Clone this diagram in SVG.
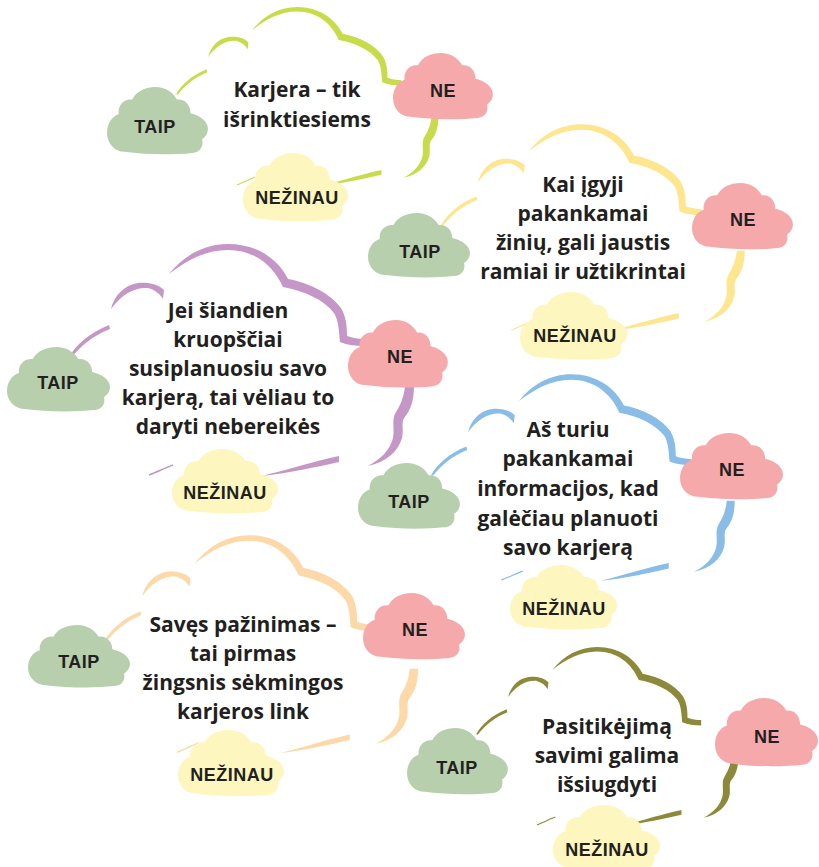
<svg xmlns="http://www.w3.org/2000/svg" xmlns:xlink="http://www.w3.org/1999/xlink" width="819" height="867" viewBox="0 0 819 867">
<style>
.lbl{font-family:"Liberation Sans",Arial,sans-serif;font-weight:700;font-size:18px;letter-spacing:0.5px;fill:#231f20;text-anchor:middle}
.main{font-family:"Open Sans","Noto Sans",sans-serif;font-weight:700;font-size:21px;fill:#231f20;text-anchor:middle}
.taip{fill:#b7cfad}
.ne{fill:#f5a9ab}
.nez{fill:#fdf7bf}
.c1{color:#c8dc4b}
.c2{color:#fde68e}
.c3{color:#c597c6}
.c4{color:#89bce6}
.c5{color:#fdd8a8}
.c6{color:#8c8a3a}
</style>
<defs>
<path id="sc" d="M18,62 C8,62 0,54 0,44 C0,35 5,28 12,26 C11,17 18,11 26,12 C30,4 40,0 50,0 C60,0 68,5 72,12 C80,11 86,17 86,25 C96,27 104,33 104,40 C104,45 101,48 98,50 C100,57 95,63 88,63 C70,65 40,65 18,62 Z"/>
<g id="outline">
<path fill="currentColor" d="M69,357 C76,345 89,333 109,325 L110,329 C92,336 80,347 71,358 Z"/>
<path fill="currentColor" d="M111,309 C114,296 124,285 138,283 C148,282 158,284 164,290 L163,299 C160,294 155,290 148,288 C134,287 121,295 111,309 Z"/>
<path fill="currentColor" d="M169,274 C183,256 204,244 228,244 C257,244 278,259 288,279 C310,283 331,294 341,308 C347,318 347,330 347,336 C353,338 358,339 365,339 L365,346 C356,346 347,345 340,342 C339,333 339,321 334,313 C324,300 305,291 283,287 C273,265 254,250 228,250 C205,250 186,261 169,274 Z"/>
<path fill="currentColor" d="M414,386 C414,400 411,410 404,418 C401,424 404,430 402,438 C398,452 386,462 368,466 C381,459 390,450 393,438 C395,428 391,420 396,412 C401,404 404,396 405,386 Z"/>
<path fill="currentColor" d="M339,456 C315,461 290,469 262,476 C290,473 316,467 339,462 Z"/>
<path fill="none" stroke="currentColor" stroke-width="1.4" d="M149,475 C157,472 165,468 173,465"/>
</g>
</defs>
<g id="connectors">
<use href="#outline" class="c1" transform="translate(123.8,-181) scale(0.76,0.77)"/>
<use href="#outline" class="c2" transform="translate(380.4,-92.8) scale(0.88,0.89)"/>
<use href="#outline" class="c3"/>
<use href="#outline" class="c4" transform="translate(370.4,157.2) scale(0.88,0.89)"/>
<use href="#outline" class="c5" transform="translate(41.3,305.8) scale(0.91,0.94)"/>
<use href="#outline" class="c6" transform="translate(423.8,459) scale(0.76,0.77)"/>
</g>
<g id="q1">
<g id="q1-taip"><use href="#sc" class="taip" transform="translate(107,87) scale(0.971,1.046)"/><text class="lbl" x="155" y="133">TAIP</text></g>
<g id="q1-ne"><use href="#sc" class="ne" transform="translate(393,53) scale(0.96,1.03)"/><text class="lbl" x="443" y="97">NE</text></g>
<g id="q1-nezinau"><use href="#sc" class="nez" transform="translate(243,153) scale(1.01,1.06)"/><text class="lbl" x="297" y="204">NEŽINAU</text></g>
<text class="main" x="297"><tspan x="297" y="97">Karjera – tik</tspan><tspan x="297" y="127">išrinktiesiems</tspan></text>
</g>
<g id="q2">
<g id="q2-taip"><use href="#sc" class="taip" transform="translate(368,213) scale(0.98,1.0)"/><text class="lbl" x="420" y="258">TAIP</text></g>
<g id="q2-ne"><use href="#sc" class="ne" transform="translate(692,183) scale(0.97,1.03)"/><text class="lbl" x="743" y="226">NE</text></g>
<g id="q2-nezinau"><use href="#sc" class="nez" transform="translate(520,292) scale(1.03,1.05)"/><text class="lbl" x="575" y="342">NEŽINAU</text></g>
<text class="main"><tspan x="583" y="192">Kai įgyji</tspan><tspan x="583" y="221">pakankamai</tspan><tspan x="583" y="250">žinių, gali jaustis</tspan><tspan x="583" y="279">ramiai ir užtikrintai</tspan></text>
</g>
<g id="q3">
<g id="q3-taip"><use href="#sc" class="taip" transform="translate(7,347) scale(0.99,1.0)"/><text class="lbl" x="58" y="389">TAIP</text></g>
<g id="q3-ne"><use href="#sc" class="ne" transform="translate(348,320) scale(0.96,1.05)"/><text class="lbl" x="400" y="363">NE</text></g>
<g id="q3-nezinau"><use href="#sc" class="nez" transform="translate(172,449) scale(1.02,1.0)"/><text class="lbl" x="225" y="499">NEŽINAU</text></g>
<text class="main"><tspan x="228" y="318">Jei šiandien</tspan><tspan x="228" y="347">kruopščiai</tspan><tspan x="228" y="376">susiplanuosiu savo</tspan><tspan x="228" y="405">karjerą, tai vėliau to</tspan><tspan x="228" y="434">daryti nebereikės</tspan></text>
</g>
<g id="q4">
<g id="q4-taip"><use href="#sc" class="taip" transform="translate(358,463) scale(0.98,1.02)"/><text class="lbl" x="409" y="508">TAIP</text></g>
<g id="q4-ne"><use href="#sc" class="ne" transform="translate(680,433) scale(0.99,1.03)"/><text class="lbl" x="732" y="476">NE</text></g>
<g id="q4-nezinau"><use href="#sc" class="nez" transform="translate(510,565) scale(1.03,1.0)"/><text class="lbl" x="564" y="615">NEŽINAU</text></g>
<text class="main"><tspan x="568" y="437">Aš turiu</tspan><tspan x="568" y="466">pakankamai</tspan><tspan x="568" y="496">informacijos, kad</tspan><tspan x="568" y="526">galėčiau planuoti</tspan><tspan x="568" y="555">savo karjerą</tspan></text>
</g>
<g id="q5">
<g id="q5-taip"><use href="#sc" class="taip" transform="translate(28,625) scale(0.98,0.97)"/><text class="lbl" x="79" y="668">TAIP</text></g>
<g id="q5-ne"><use href="#sc" class="ne" transform="translate(363,593) scale(0.98,1.03)"/><text class="lbl" x="415" y="636">NE</text></g>
<g id="q5-nezinau"><use href="#sc" class="nez" transform="translate(178,730) scale(1.02,1.03)"/><text class="lbl" x="232" y="781">NEŽINAU</text></g>
<text class="main"><tspan x="243" y="632">Savęs pažinimas –</tspan><tspan x="243" y="661">tai pirmas</tspan><tspan x="243" y="690">žingsnis sėkmingos</tspan><tspan x="243" y="719">karjeros link</tspan></text>
</g>
<g id="q6">
<g id="q6-taip"><use href="#sc" class="taip" transform="translate(407,728) scale(0.97,1.03)"/><text class="lbl" x="457" y="774">TAIP</text></g>
<g id="q6-ne"><use href="#sc" class="ne" transform="translate(715,698) scale(0.99,1.06)"/><text class="lbl" x="767" y="743">NE</text></g>
<g id="q6-nezinau"><use href="#sc" class="nez" transform="translate(553,805) scale(1.03,1.02)"/><text class="lbl" x="607" y="856">NEŽINAU</text></g>
<text class="main"><tspan x="607" y="734">Pasitikėjimą</tspan><tspan x="607" y="763">savimi galima</tspan><tspan x="607" y="792">išsiugdyti</tspan></text>
</g>
</svg>
